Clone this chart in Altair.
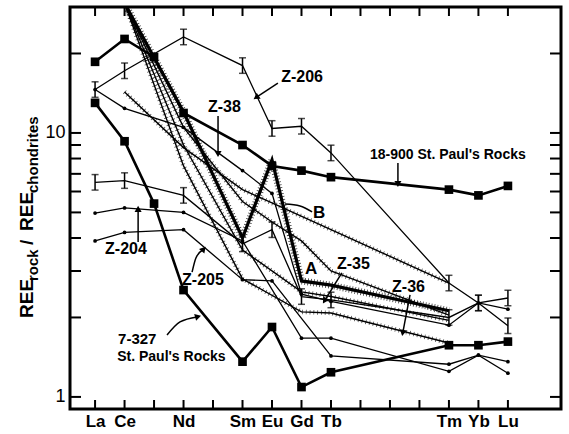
import altair as alt
import pandas as pd

ATOMIC = list(range(57, 72))
SYMBOLS = ["La", "Ce", "Pr", "Nd", "Pm", "Sm", "Eu", "Gd", "Tb", "Dy", "Ho", "Er", "Tm", "Yb", "Lu"]
LABELED = ["La", "Ce", "Nd", "Sm", "Eu", "Gd", "Tb", "Tm", "Yb", "Lu"]
N = None

# heavy lines with squares (St. Paul's Rocks)
sp_18_900 = [18.6, 22.7, 19.4, 11.9, N, 9.0, 7.5, 7.2, 6.8, N, N, N, 6.1, 5.8, 6.3]
sp_7_327 = [13.0, 9.3, 5.4, 2.54, N, 1.36, 1.84, 1.09, 1.24, N, N, N, 1.57, 1.57, 1.62]
# samples with error bars
z_206 = [14.6, 17.2, N, 23.1, N, 18.0, 10.4, 10.6, 8.4, N, N, N, 2.7, 2.27, 1.86]
z_35 = [6.5, 6.6, N, 5.8, N, 3.8, 4.3, 2.4, 2.33, N, N, N, 2.0, 2.27, 2.37]
# samples with small dots
z_38 = [14.6, 12.4, N, 10.5, N, 7.2, 5.9, 2.45, 2.3, N, N, N, 1.87, 2.27, 2.15]
z_204 = [4.97, 5.2, N, 5.0, N, 3.9, N, 1.67, 1.67, N, N, N, 1.25, 1.44, 1.36]
z_205 = [3.9, 4.2, N, 4.3, N, 2.78, 2.75, N, 1.43, N, N, N, 1.33, 1.44, 1.23]
# hatched curves
curve_a = [N, 31.0, N, 12.0, N, 4.0, 7.9, 2.75, 2.65, N, N, N, 2.12, N, N]
curve_a2 = [N, 31.0, N, 9.0, N, 3.6, N, 2.5, 2.4, N, N, N, 1.95, N, N]
curve_b = [N, 14.3, N, 8.8, N, 6.1, N, N, N, N, N, N, 2.7, N, N]
curve_c = [N, 31.0, N, 10.5, N, 5.5, 4.6, 3.9, 3.0, N, N, N, 2.04, N, N]
z_36 = [N, 31.0, N, 7.5, N, 2.8, N, 2.1, 2.08, N, N, N, 1.6, N, N]
ERR = 1.07

SERIES = [
    ("18-900", sp_18_900, "square"),
    ("7-327", sp_7_327, "square"),
    ("Z-206", z_206, "bar"),
    ("Z-35", z_35, "bar"),
    ("Z-38", z_38, "dot"),
    ("Z-204", z_204, "dot"),
    ("Z-205", z_205, "dot"),
    ("A", curve_a, "hatch_heavy"),
    ("A2", curve_a2, "hatch_light"),
    ("B", curve_b, "hatch_light"),
    ("C", curve_c, "hatch_light"),
    ("Z-36", z_36, "hatch_light"),
]

rows = []
for name, vals, style in SERIES:
    for z, s, v in zip(ATOMIC, SYMBOLS, vals):
        if v is not None:
            rows.append({"series": name, "z": z, "el": s, "v": v, "style": style,
                         "lo": v / ERR, "hi": v * ERR})
df = pd.DataFrame(rows)

# annotations: text, atomic-number position, value position
LABELS = [
    ("Z-206", 63.31, 16.3, 16),
    ("Z-38", 60.83, 12.55, 16),
    ("18-900 St. Paul's Rocks", 66.32, 8.25, 14),
    ("B", 64.39, 4.98, 17),
    ("A", 64.12, 3.05, 17),
    ("Z-35", 65.20, 3.19, 16),
    ("Z-36", 67.07, 2.61, 16),
    ("Z-204", 57.34, 3.64, 16),
    ("Z-205", 59.95, 2.775, 16),
    ("7-327", 57.78, 1.659, 15),
    ("St. Paul's Rocks", 57.75, 1.417, 14),
]
ARROWS = [
    ("Z-206", [(63.20, 15.44), (62.49, 13.7)], 236),
    ("Z-38", [(61.17, 11.6), (61.17, 8.4)], 180),
    ("18-900", [(67.27, 7.69), (67.27, 6.46)], 180),
    ("Z-35", [(65.37, 2.95), (64.80, 2.33)], 212),
    ("Z-36", [(67.68, 2.435), (67.44, 1.763)], 191),
    ("Z-204", [(58.46, 3.86), (58.46, 5.11)], 0),
    ("Z-205", [(60.29, 2.97), (60.42, 3.36), (60.66, 3.61)], 41),
    ("7-327", [(59.44, 1.717), (59.88, 1.924), (60.46, 2.01)], 74),
    ("B", [(63.44, 5.38), (63.95, 5.29), (64.36, 5.02)], -1),
]

arrow_rows, head_rows = [], []
for name, pts, ang in ARROWS:
    for i, (z, v) in enumerate(pts):
        arrow_rows.append({"arrow": name, "i": i, "z": z, "v": v})
    if ang >= 0:
        head_rows.append({"z": pts[-1][0], "v": pts[-1][1], "ang": ang})
arrows_df = pd.DataFrame(arrow_rows)
heads_df = pd.DataFrame(head_rows)
labels_df = pd.DataFrame([{"t": t, "z": z, "v": v, "fs": fs} for t, z, v, fs in LABELS])

W, H = 491, 402
FONT = "Liberation Sans"

label_expr = " : ".join(
    f"datum.value == {z} ? '{s}'" for z, s in zip(ATOMIC, SYMBOLS) if s in LABELED
) + " : ''"

xs = alt.Scale(domain=[56.15, 72.8], nice=False, zero=False)
ys = alt.Scale(type="log", domain=[0.9, 30], nice=False)
AX = alt.Axis(values=ATOMIC, labelExpr=label_expr, ticks=False, domain=False, grid=False,
              title=None, labelPadding=4, labelFontSize=17, labelFont=FONT,
              labelFontWeight="bold", labelColor="black", labelFlush=False, labelOverlap=False)
AY = alt.Axis(values=[1, 10], ticks=False, domain=False, grid=False, title=None, labelPadding=5,
              labelFontSize=18, labelFont=FONT, labelColor="black", format="d",
              labelOverlap=False)
X = alt.X("z:Q", scale=xs, axis=AX)
Y = alt.Y("v:Q", scale=ys, axis=AY)

base = alt.Chart(df)
thin = base.transform_filter("datum.style == 'bar' || datum.style == 'dot'").mark_line(
    color="black", strokeWidth=1.3, clip=True).encode(x=X, y=Y, detail="series:N")
heavy = base.transform_filter("datum.style == 'square'").mark_line(
    color="black", strokeWidth=2.6, clip=True).encode(x=X, y=Y, detail="series:N")
squares = base.transform_filter("datum.style == 'square'").mark_square(
    color="black", size=75, opacity=1).encode(x=X, y=Y)
dots = base.transform_filter("datum.style == 'dot'").mark_circle(
    color="black", size=14, opacity=1).encode(x=X, y=Y)
bars = base.transform_filter("datum.style == 'bar'").mark_rule(
    color="black", strokeWidth=1.5).encode(x=X, y=alt.Y("lo:Q", scale=ys, axis=AY), y2="hi:Q")
caps_lo = base.transform_filter("datum.style == 'bar'").mark_tick(
    color="black", orient="horizontal", size=7, thickness=1.5).encode(
    x=X, y=alt.Y("lo:Q", scale=ys, axis=AY))
caps_hi = base.transform_filter("datum.style == 'bar'").mark_tick(
    color="black", orient="horizontal", size=7, thickness=1.5).encode(
    x=X, y=alt.Y("hi:Q", scale=ys, axis=AY))

hh = base.transform_filter("datum.style == 'hatch_heavy'")
hl = base.transform_filter("datum.style == 'hatch_light'")
hatch_heavy_fringe = hh.mark_line(color="black", strokeWidth=7, strokeDash=[0.8, 2.2], clip=True,
                                  opacity=0.8).encode(x=X, y=Y, detail="series:N")
hatch_heavy_core = hh.mark_line(color="black", strokeWidth=3.2, clip=True).encode(
    x=X, y=Y, detail="series:N")
hatch_light_fringe = hl.mark_line(color="black", strokeWidth=4.5, strokeDash=[0.8, 3], clip=True,
                                  opacity=0.7).encode(x=X, y=Y, detail="series:N")
hatch_light_core = hl.mark_line(color="black", strokeWidth=1.4, clip=True).encode(
    x=X, y=Y, detail="series:N")

# frame ticks (inward)
tick_x = pd.DataFrame({"z": ATOMIC})
MINOR = [1, 2, 3, 4, 5, 6, 7, 8, 9, 10, 20]
tick_y = pd.DataFrame({"v": MINOR})
bt = alt.Chart(tick_x).mark_rule(color="black", strokeWidth=2).encode(
    x=X, y=alt.value(H), y2=alt.value(H - 9))
tt = alt.Chart(tick_x).mark_rule(color="black", strokeWidth=2).encode(
    x=X, y=alt.value(0), y2=alt.value(9))
lt = alt.Chart(tick_y).mark_rule(color="black", strokeWidth=2).encode(
    y=Y, x=alt.value(0), x2=alt.value(11))
rt = alt.Chart(tick_y).mark_rule(color="black", strokeWidth=2).encode(
    y=Y, x=alt.value(W), x2=alt.value(W - 11))

# annotations
texts = alt.Chart(labels_df).mark_text(align="left", baseline="middle", font=FONT,
                                       fontWeight="bold", color="black").encode(
    x=X, y=Y, text="t:N", size=alt.Size("fs:Q", scale=None, legend=None))
arrow_lines = alt.Chart(arrows_df).mark_line(color="black", strokeWidth=1.5,
                                             interpolate="monotone").encode(
    x=X, y=Y, detail="arrow:N", order="i:Q")
arrow_heads = alt.Chart(heads_df).mark_point(shape="triangle", filled=True, color="black",
                                             size=50, opacity=1).encode(
    x=X, y=Y, angle=alt.Angle("ang:Q", scale=None))

# y-axis title with subscripts (pixel placement of the title pieces)
TITLE_PARTS = [("REE", -37, 311, 19), ("rock", -32, 274, 15), ("/", -37, 238, 19),
               ("REE", -37, 224, 19), ("chondrites", -32, 186, 15)]
one = pd.DataFrame({"k": [0]})
title_layers = [
    alt.Chart(one).mark_text(align="left", baseline="alphabetic", angle=270, font=FONT,
                             fontWeight="bold", color="black", fontSize=fs).encode(
        x=alt.value(px), y=alt.value(py), text=alt.value(t))
    for t, px, py, fs in TITLE_PARTS
]

chart = alt.layer(
    thin, hatch_light_fringe, hatch_light_core, hatch_heavy_fringe, hatch_heavy_core,
    heavy, bars, caps_lo, caps_hi, dots, squares,
    bt, tt, lt, rt, arrow_lines, arrow_heads, texts, *title_layers,
).properties(
    width=W, height=H,
    autosize=alt.AutoSizeParams(type="none"),
    padding={"left": 70, "top": 7, "right": 8, "bottom": 25},
).configure_view(stroke="black", strokeWidth=3).configure_axis(labelOverlap=False)

chart.save("out.html", embed_options={"renderer": "svg", "actions": False})
